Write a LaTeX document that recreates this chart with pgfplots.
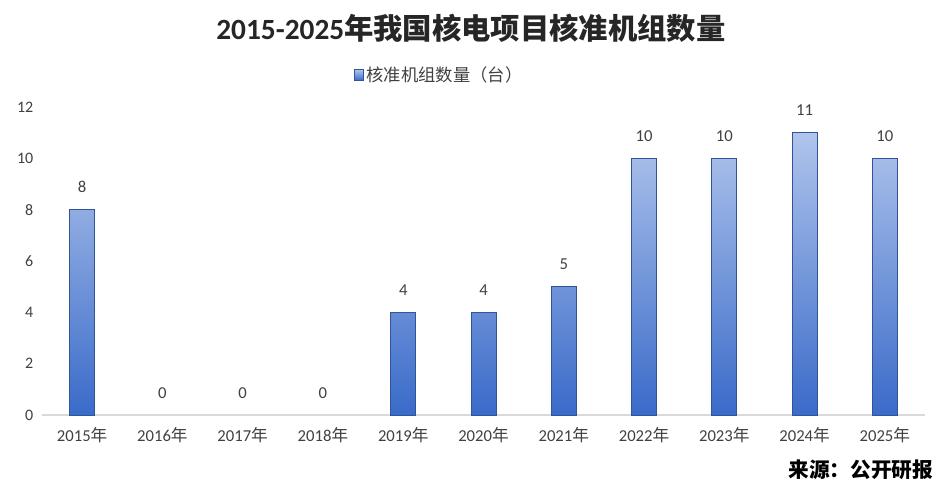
\documentclass[border=0pt]{standalone}
\usepackage{pgfplots}
\pgfplotsset{compat=1.18}
\usepackage{fontspec}
\setmainfont{Carlito}
\newfontfamily\cjk{Noto Sans CJK SC}
\definecolor{bartop}{HTML}{B0C4EC}
\definecolor{barbot}{HTML}{3A6BC9}
\definecolor{barline}{HTML}{2F5597}
\definecolor{txt}{HTML}{404040}
\definecolor{axln}{HTML}{D9D9D9}
\begin{document}
\begin{tikzpicture}[x=1pt,y=1pt]
\useasboundingbox (-31.5,-63.75) rectangle (675,311.25);
\begin{axis}[
  at={(0,0)}, anchor=south west, scale only axis,
  width=662.25pt, height=231pt,
  xmin=-0.5, xmax=10.5, ymin=0, ymax=12,
  ytick={0,2,...,12},
  xtick={0,...,10},
  xticklabels={2015{\cjk 年},2016{\cjk 年},2017{\cjk 年},2018{\cjk 年},2019{\cjk 年},2020{\cjk 年},2021{\cjk 年},2022{\cjk 年},2023{\cjk 年},2024{\cjk 年},2025{\cjk 年}},
  axis x line*=bottom, axis y line*=left,
  y axis line style={draw=none},
  x axis line style={draw=axln, line width=0.8pt},
  major tick length=0pt,
  tick label style={font=\fontsize{12}{14}\selectfont, text=txt},
  xticklabel style={yshift=-6pt, font=\fontsize{12.5}{14}\selectfont},
  yticklabel style={xshift=-3pt},
  /pgf/number format/assume math mode=true,
  bar width=18.75pt,
  nodes near coords,
  nodes near coords style={font=\fontsize{12.5}{14}\selectfont, text=txt, yshift=9pt},
  legend style={at={(rel axis cs:0.45,1.104)}, anchor=center, draw=none, fill=none,
    font=\cjk\fontsize{13}{15}\selectfont, text=txt},
  legend image code/.code={\draw[#1] (0pt,-4pt) rectangle (7pt,4pt);},
]
\addplot[ybar, bar shift=0pt, draw=barline, line width=0.6pt, top color=bartop, bottom color=barbot]
  coordinates {(0,8) (4,4) (5,4) (6,5) (7,10) (8,10) (9,11) (10,10)};
\addlegendentry{核准机组数量（台）}
\addplot[ybar, bar shift=0pt, draw=none, fill=none, forget plot]
  coordinates {(1,0) (2,0) (3,0)};
\end{axis}
\node[font=\bfseries\fontsize{22}{25}\selectfont, text=black!85] at (321.75,290.25) {2015-2025{\cjk\bfseries 年我国核电项目核准机组数量}};
\node[anchor=east, font=\cjk\bfseries\fontsize{15.5}{18}\selectfont] at (672,-41.25) {来源：公开研报};
\end{tikzpicture}
\end{document}
